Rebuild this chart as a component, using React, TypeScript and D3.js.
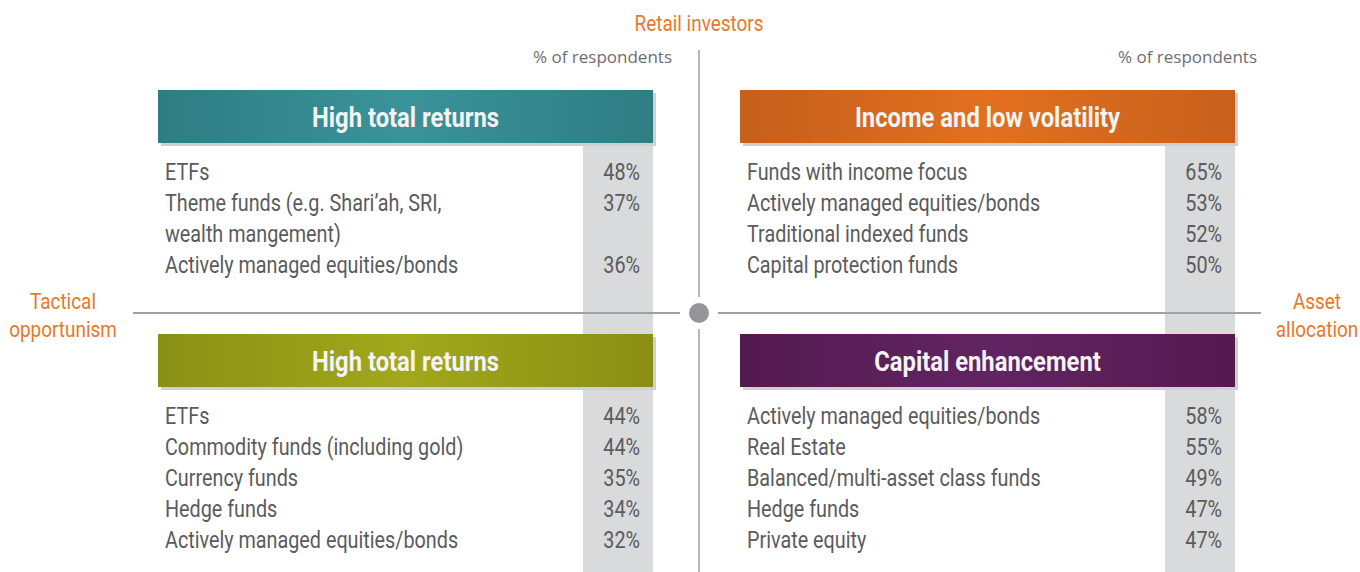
import React from "react";
import * as d3 from "d3";

const quadrantTitles = ["High total returns", "Income and low volatility", "High total returns", "Capital enhancement"];
const tlItems = ["ETFs", "Theme funds (e.g. Shari\u2019ah, SRI,|wealth mangement)", "Actively managed equities/bonds"];
const tlValues = [48, 37, 36];
const trItems = ["Funds with income focus", "Actively managed equities/bonds", "Traditional indexed funds", "Capital protection funds"];
const trValues = [65, 53, 52, 50];
const blItems = ["ETFs", "Commodity funds (including gold)", "Currency funds", "Hedge funds", "Actively managed equities/bonds"];
const blValues = [44, 44, 35, 34, 32];
const brItems = ["Actively managed equities/bonds", "Real Estate", "Balanced/multi-asset class funds", "Hedge funds", "Private equity"];
const brValues = [58, 55, 49, 47, 47];
const axisLabels = { top: "Retail investors", left: ["Tactical", "opportunism"], right: ["Asset", "allocation"] };
const subLabel = "% of respondents";

const gradients = [
  ["#2e7d83", "#3a9399", "#2e7d83"],
  ["#c55f1c", "#e2701f", "#c8601c"],
  ["#8a9014", "#a1a81a", "#8a8e14"],
  ["#531a50", "#612462", "#541a50"],
];

const FONT = "Roboto, sans-serif";
const W = 1360, H = 572;
const ORANGE = "#e8782a";

function CText(props: { x: number; y: number; sx: number; anchor?: string; fill: string; size: number; weight?: string; children: React.ReactNode }) {
  const { x, y, sx, anchor, fill, size, weight, children } = props;
  return (
    <g transform={`translate(${x},${y}) scale(${sx},1)`}>
      <text x={0} y={0} textAnchor={anchor || "start"} fill={fill} fontSize={size} fontWeight={weight || "normal"}>{children}</text>
    </g>
  );
}

export default function App() {
  const cx = 699, cy = 313;
  const lineY = d3.scaleLinear().domain([0, 1]).range([172, 203]);
  const colW = 70;
  const quads = [
    { x: 158, y: 90, items: tlItems, values: tlValues, g: 0 },
    { x: 740, y: 90, items: trItems, values: trValues, g: 1 },
    { x: 158, y: 334, items: blItems, values: blValues, g: 2 },
    { x: 740, y: 334, items: brItems, values: brValues, g: 3 },
  ];
  const boxW = 495, boxH = 53;
  const SX = 0.86;
  return (
    <svg width={W} height={H} style={{ position: "absolute", left: 0, top: 0 }} fontFamily={FONT}>
      <defs>
        {gradients.map((g, i) => (
          <linearGradient key={i} id={"g" + i} x1="0" x2="1" y1="0" y2="0">
            <stop offset="0%" stopColor={g[0]} />
            <stop offset="50%" stopColor={g[1]} />
            <stop offset="100%" stopColor={g[2]} />
          </linearGradient>
        ))}
      </defs>
      <rect x={583} y={143} width={colW} height={191} fill="#d9dadb" />
      <rect x={1165} y={143} width={colW} height={191} fill="#d9dadb" />
      <rect x={583} y={387} width={colW} height={H - 387} fill="#d9dadb" />
      <rect x={1165} y={387} width={colW} height={H - 387} fill="#d9dadb" />
      <line x1={cx} x2={cx} y1={50} y2={cy - 16} stroke="#b5b6b8" strokeWidth={2} />
      <line x1={cx} x2={cx} y1={cy + 16} y2={H} stroke="#b5b6b8" strokeWidth={2} />
      <line x1={133} x2={cx - 19} y1={cy} y2={cy} stroke="#a0a1a3" strokeWidth={2} />
      <line x1={cx + 19} x2={1261} y1={cy} y2={cy} stroke="#a0a1a3" strokeWidth={2} />
      <circle cx={cx} cy={cy} r={10} fill="#939598" />
      <CText x={699} y={31} sx={SX} anchor="middle" fill={ORANGE} size={22}>{axisLabels.top}</CText>
      {axisLabels.left.map((t, i) => (
        <CText key={t} x={63} y={309 + i * 28} sx={SX} anchor="middle" fill={ORANGE} size={22}>{t}</CText>
      ))}
      {axisLabels.right.map((t, i) => (
        <CText key={t} x={1317} y={309 + i * 28} sx={SX} anchor="middle" fill={ORANGE} size={22}>{t}</CText>
      ))}
      <text x={672} y={63} textAnchor="end" fill="#6d6e71" fontSize={17} fontFamily="'Open Sans', sans-serif">{subLabel}</text>
      <text x={1257} y={63} textAnchor="end" fill="#6d6e71" fontSize={17} fontFamily="'Open Sans', sans-serif">{subLabel}</text>
      {quads.map((q, qi) => {
        let line = 0;
        const rows: React.ReactNode[] = [];
        q.items.forEach((it, i) => {
          const parts = it.split("|");
          const y0 = lineY(line) - 90 + q.y;
          rows.push(
            <g key={i}>
              {parts.map((p, pi) => (
                <CText key={pi} x={q.x + 7} y={lineY(line + pi) - 90 + q.y + 8} sx={SX} fill="#5a5b5d" size={23}>{p}</CText>
              ))}
              <CText x={q.x + 482} y={y0 + 8} sx={SX} anchor="end" fill="#5a5b5d" size={23}>{q.values[i] + "%"}</CText>
            </g>
          );
          line += parts.length;
        });
        return (
          <g key={qi}>
            <rect x={q.x + 3} y={q.y + 3} width={boxW} height={boxH} fill="#cfd0d2" />
            <rect x={q.x} y={q.y} width={boxW} height={boxH} fill={`url(#g${q.g})`} />
            <CText x={q.x + boxW / 2} y={q.y + 37} sx={0.85} anchor="middle" fill="#f4f4f4" size={28} weight="bold">{quadrantTitles[qi]}</CText>
            {rows}
          </g>
        );
      })}
    </svg>
  );
}
